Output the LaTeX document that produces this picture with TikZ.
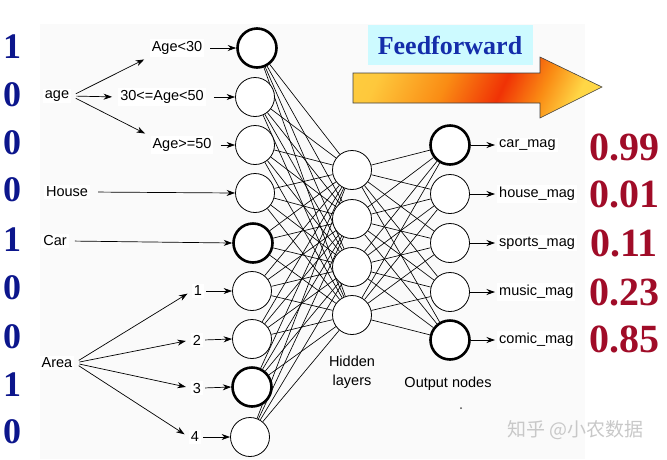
\documentclass[tikz,border=0pt]{standalone}
\usepackage{fontspec}
\setmainfont{Liberation Sans}
\newfontfamily\serifb{Liberation Serif}
\newfontfamily\cjk{Noto Sans CJK SC}
\usetikzlibrary{arrows.meta,backgrounds}
\definecolor{numblue}{RGB}{12,22,140}
\definecolor{numred}{RGB}{160,12,40}
\definecolor{ffblue}{RGB}{20,45,170}
\definecolor{ffbox}{RGB}{205,250,255}
\definecolor{bgpanel}{RGB}{250,250,250}
\definecolor{wmgray}{RGB}{200,200,200}
\definecolor{ffyellow}{RGB}{255,215,70}
\definecolor{fforange}{RGB}{250,140,20}
\definecolor{ffred}{RGB}{240,50,5}
\pgfdeclarehorizontalshading{ffshade}{100bp}{color(0bp)=(ffyellow); color(25bp)=(ffyellow!80!fforange); color(42bp)=(fforange); color(56bp)=(ffred); color(66bp)=(fforange); color(75bp)=(ffyellow); color(100bp)=(ffyellow)}
\begin{document}
\begin{tikzpicture}[x=1pt,y=-1pt,
  neuron/.style={circle,draw,fill=white,minimum size=39pt,inner sep=0pt,line width=0.8pt},
  thickneuron/.style={neuron,line width=2.6pt},
  lbl/.style={font=\fontsize{14.5}{16}\selectfont,inner sep=2pt,fill=white},
  olbl/.style={lbl,anchor=west},
  edge/.style={line width=0.65pt},
  arr/.style={-{Stealth[length=8.5pt,width=6pt]},line width=0.7pt},
  bign/.style={font=\serifb\bfseries\fontsize{36}{36}\selectfont,text=numblue,inner sep=0pt},
  valn/.style={font=\serifb\bfseries\fontsize{40}{40}\selectfont,text=numred,inner sep=0pt}]
\useasboundingbox (0,0) rectangle (667,459);
% input neurons
\node[thickneuron] (i1) at (257,48) {};
\node[neuron] (i2) at (255,97) {};
\node[neuron] (i3) at (255,145) {};
\node[neuron] (i4) at (255,193) {};
\node[thickneuron] (i5) at (253,243) {};
\node[neuron] (i6) at (252,291) {};
\node[neuron] (i7) at (252,339) {};
\node[thickneuron] (i8) at (252,387) {};
\node[neuron] (i9) at (250,437) {};
% hidden
\node[neuron] (h1) at (352,170) {};
\node[neuron] (h2) at (352,219) {};
\node[neuron] (h3) at (352,267) {};
\node[neuron] (h4) at (352,315) {};
% output
\node[thickneuron] (o1) at (450,145) {};
\node[neuron] (o2) at (450,194) {};
\node[neuron] (o3) at (450,243) {};
\node[neuron] (o4) at (450,292) {};
\node[thickneuron] (o5) at (450,340) {};
\begin{scope}[on background layer]
  \fill[bgpanel] (40,24) rectangle (585,459);
  \foreach \i in {1,...,9} \foreach \j in {1,...,4} \draw[edge] (i\i) -- (h\j);
  \foreach \j in {1,...,4} \foreach \k in {1,...,5} \draw[edge] (h\j) -- (o\k);
\end{scope}
% input labels
\node[lbl] (age) at (57,96) {age};
\node[lbl] (a1) at (177,48) {Age<30};
\node[lbl] (a2) at (162,97) {30<=Age<50};
\node[lbl] (a3) at (182,145) {Age>=50};
\node[lbl] (house) at (67,192) {House};
\node[lbl] (car) at (55,241) {Car};
\node[lbl] (area) at (57,363) {Area};
\node[lbl] (n1) at (198,291) {1};
\node[lbl] (n2) at (197,340) {2};
\node[lbl] (n3) at (197,388) {3};
\node[lbl] (n4) at (195,437) {4};
\draw[arr,shorten <=5pt,shorten >=6pt] (age.east) -- (a1.south west);
\draw[arr,shorten <=5pt,shorten >=6pt] (age.east) -- (a2.west);
\draw[arr,shorten <=5pt,shorten >=6pt] (age.east) -- (a3.north west);
\draw[arr,shorten <=6pt] (a1.east) -- (i1.west);
\draw[arr,shorten <=8pt] (a2.east) -- (i2.west);
\draw[arr,shorten <=7pt] (a3.east) -- (i3.west);
\draw[arr,shorten <=8pt] (house.east) -- (i4.west);
\draw[arr,shorten <=6pt] (car.east) -- (i5.west);
\foreach \k in {1,...,4} \draw[arr,shorten <=5pt,shorten >=5pt] (area.east) -- (n\k.west);
\draw[arr,shorten <=2pt] (n1.east) -- (i6.west);
\draw[arr,shorten <=2pt] (n2.east) -- (i7.west);
\draw[arr,shorten <=2pt] (n3.east) -- (i8.west);
\draw[arr,shorten <=2pt] (n4.east) -- (i9.west);
% output labels
\node[olbl] (l1) at (497,145) {car\_mag};
\node[olbl] (l2) at (497,194) {house\_mag};
\node[olbl] (l3) at (497,243) {sports\_mag};
\node[olbl] (l4) at (497,292) {music\_mag};
\node[olbl] (l5) at (497,340) {comic\_mag};
\foreach \k in {1,...,5} \draw[arr,shorten >=2pt] (o\k.east) -- (l\k.west);
% layer captions
\node[lbl,fill=none,align=center,font=\fontsize{14.5}{19}\selectfont] (hcap) at (352,372) {Hidden\\layers};
\node[lbl,fill=none] (ocap) at (448,384) {Output nodes};
\fill[black!70] (461,408) circle (1pt);
% one-hot digits
\foreach \d/\y [count=\c] in {1/47,0/95,0/143,0/190,1/240,0/288,0/337,1/385,0/432}
  \node[bign] (d\c) at (12,\y) {\d};
% output values
\node[valn] (v1) at (624,147) {0.99};
\node[valn] (v2) at (624,194) {0.01};
\node[valn] (v3) at (624,243) {0.11};
\node[valn] (v4) at (624,292) {0.23};
\node[valn] (v5) at (624,339) {0.85};
% feedforward
\node[fill=ffbox,minimum width=165pt,minimum height=40pt,inner sep=0pt,text=ffblue,font=\serifb\bfseries\fontsize{26}{26}\selectfont] (ff) at (450,45) {Feedforward};
\shade[shading=ffshade,shading angle=-25,draw=black!75,line width=0.6pt]
  (353,73) -- (540,73) -- (540,57) -- (602,87) -- (540,118) -- (540,103) -- (353,103) -- cycle;
% watermark
\node[anchor=west,inner sep=0pt,text=wmgray,font=\cjk\fontsize{19}{19}\selectfont] (wm) at (507,430) {知乎 @小农数据};
\end{tikzpicture}
\end{document}
